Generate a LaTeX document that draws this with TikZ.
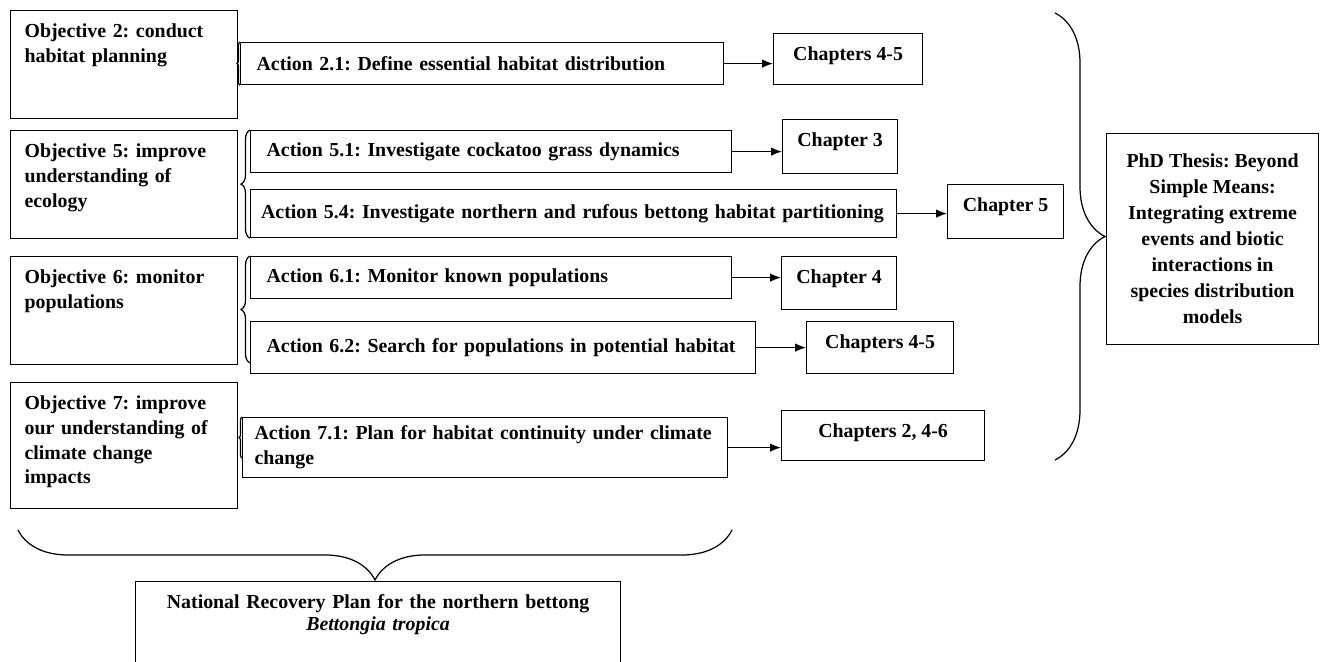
\documentclass[tikz,border=0pt]{standalone}
\usepackage{fontspec}
\setmainfont{Liberation Serif}
\usetikzlibrary{arrows.meta, positioning, decorations.pathreplacing}
\frenchspacing
\hyphenpenalty=10000
\exhyphenpenalty=10000

\begin{document}
\begin{tikzpicture}[x=0.02cm, y=-0.02cm, line width=0.7pt,
  font=\fontsize{11.3}{14.2}\selectfont\bfseries,
  objbox/.style={draw, anchor=north west, align=left, text width=3.98cm, inner xsep=0.28cm, inner ysep=0.2cm, text height=0.33cm, text depth=#1},
  actbox/.style 2 args={draw, anchor=north west, align=left, text width=#1, inner xsep=0.32cm, minimum height=#2},
  chapbox/.style 2 args={draw, anchor=north west, minimum width=#1, inner ysep=0.2cm, text height=0.33cm, text depth=#2},
  arr/.style={-{Latex[length=2.2mm, width=1.7mm]}},
  brc/.style={decorate, decoration={brace, amplitude=#1}}]
\useasboundingbox (0,0) rectangle (1325,662);

% Objectives
\node[objbox=1.43cm] (o2) at (10,10) {Objective 2: conduct\\habitat planning};
\node[objbox=1.43cm] (o5) at (10,130) {Objective 5: improve\\understanding of\\ecology};
\node[objbox=1.43cm] (o6) at (10,256) {Objective 6: monitor\\populations};
\node[objbox=1.79cm] (o7) at (10,382) {Objective 7: improve\\our understanding of\\climate change\\impacts};

% Actions
\node[actbox={9.02cm}{0.84cm}] (a21) at (240,42) {Action 2.1: Define essential habitat distribution};
\node[actbox={8.98cm}{0.84cm}] (a51) at (250,130) {Action 5.1: Investigate cockatoo grass dynamics};
\node[actbox={12.5cm}{0.96cm}, inner xsep=0.21cm] (a54) at (250,189) {Action 5.4: Investigate northern and rufous bettong habitat partitioning};
\node[actbox={8.98cm}{0.84cm}] (a61) at (250,256) {Action 6.1: Monitor known populations};
\node[actbox={9.46cm}{1.04cm}] (a62) at (250,321) {Action 6.2: Search for populations in potential habitat};
\node[actbox={9.22cm}{1.2cm}, inner xsep=0.24cm] (a71) at (242,417) {Action 7.1: Plan for habitat continuity under climate\\change};

% Chapters
\node[chapbox={2.98cm}{0.29cm}] (c21) at (773,33) {Chapters 4-5};
\node[chapbox={2.3cm}{0.35cm}] (c51) at (782,119) {Chapter 3};
\node[chapbox={2.32cm}{0.35cm}] (c54) at (947,184) {Chapter 5};
\node[chapbox={2.3cm}{0.33cm}] (c61) at (781,256) {Chapter 4};
\node[chapbox={2.94cm}{0.31cm}] (c62) at (806,321) {Chapters 4-5};
\node[chapbox={4.06cm}{0.27cm}] (c71) at (781,410) {Chapters 2, 4-6};

\node[draw, anchor=north west, minimum width=4.24cm, minimum height=4.22cm, align=center,
  font=\fontsize{11.3}{14.8}\selectfont\bfseries] (phd) at (1106,133)
  {PhD Thesis: Beyond\\Simple Means:\\Integrating extreme\\events and biotic\\interactions in\\species distribution\\models};
\node[draw, anchor=north west, text width=9.3cm, inner xsep=0.2cm, inner ysep=0.2cm, text height=0.33cm, text depth=1.4cm, align=center,
  font=\fontsize{11.3}{12.8}\selectfont\bfseries] (plan) at (135,581)
  {National Recovery Plan for the northern bettong\\\textit{Bettongia tropica}};

% Arrows
\draw[arr] (a21.east) -- (a21.east -| c21.west);
\draw[arr] (a51.east) -- (a51.east -| c51.west);
\draw[arr] (a54.east) -- (a54.east -| c54.west);
\draw[arr] (a61.east) -- (a61.east -| c61.west);
\draw[arr] (a62.east) -- (a62.east -| c62.west);
\draw[arr] (a71.east) -- (a71.east -| c71.west);

% Braces
\coordinate (b6) at (250,363);
\coordinate (b7) at (242,458);
\coordinate (rt) at (1055,13);
\coordinate (rb) at (1055,460);
\coordinate (bl) at (18,530);
\coordinate (br) at (732,530);
\draw[brc=0.06cm] (a21.south west) -- (a21.north west);
\draw[brc=0.18cm] (a54.south west) -- (a51.north west);
\draw[brc=0.18cm] (b6) -- (a61.north west);
\draw[brc=0.06cm] (b7) -- (a71.north west);
\draw[brc=1cm] (rt) -- (rb);
\draw[brc=1cm] (br) -- (bl);
\end{tikzpicture}
\end{document}
